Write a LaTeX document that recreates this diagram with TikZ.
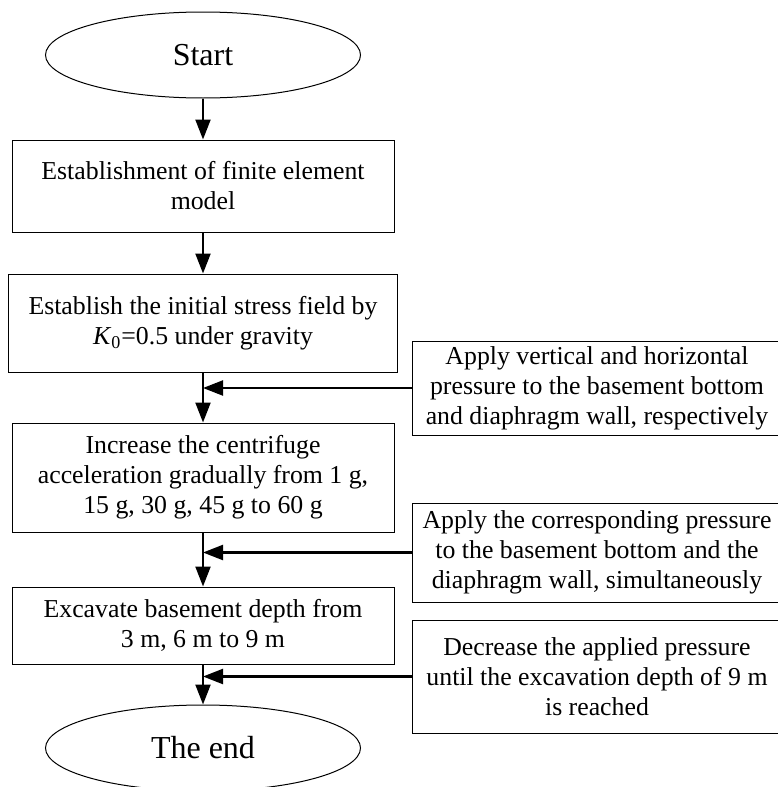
\documentclass[tikz,border=0pt]{standalone}
\usepackage{fontspec}
\setmainfont{Liberation Serif}
\usetikzlibrary{shapes.geometric,arrows.meta}

\begin{document}
\begin{tikzpicture}[node distance=65.5pt,
  term/.style={draw, ellipse, line width=0.5pt, minimum width=157.5pt, minimum height=43pt, inner sep=0pt, font=\fontsize{16}{19}\selectfont},
  stepbox/.style={draw, rectangle, line width=0.5pt, minimum width=191pt, align=center, inner sep=0pt, font=\fontsize{12.9}{15}\selectfont},
  sidebox/.style={draw, rectangle, line width=0.5pt, minimum width=185pt, align=center, inner sep=0pt, font=\fontsize{12.9}{15}\selectfont},
  flow/.style={arrows=-{Triangle[length=10pt,width=7.5pt]}, line width=1.1pt}]
\useasboundingbox (0,0) rectangle (388.5pt,-393.5pt);
\node  (start)[term] at (101.5pt,-27.5pt) {Start};
\node  (model)[stepbox, minimum height=46pt]   [below of = start] {Establishment of finite element\\model};
\node  (stress)[stepbox, minimum height=49pt, minimum width=194.5pt]  [below of = model, node distance=68.5pt] {Establish the initial stress field by\\\textit{K}\textsubscript{0}=0.5 under gravity};
\node  (accel)[stepbox, minimum height=54.5pt]  [below of = stress, node distance=77.25pt] {Increase the centrifuge\\acceleration gradually from 1 g,\\15 g, 30 g, 45 g to 60 g};
\node  (excav)[stepbox, minimum height=38.5pt]  [below of = accel, node distance=74pt] {Excavate basement depth from\\3 m, 6 m to 9 m};
\node  (end)[term]  [below of = excav, node distance=61.25pt] {The end};
\node  (load1)[sidebox, minimum height=47pt] at (298.5pt,-194pt) {Apply vertical and horizontal\\pressure to the basement bottom\\and diaphragm wall, respectively};
\node  (load2)[sidebox, minimum height=49.5pt] at (298.5pt,-276.25pt) {Apply the corresponding pressure\\to the basement bottom and the\\diaphragm wall, simultaneously};
\node  (load3)[sidebox, minimum height=56.5pt] at (298.5pt,-338.25pt) {Decrease the applied pressure\\until the excavation depth of 9 m\\is reached};
\coordinate (j1) at (stress.south |- load1.west);
\coordinate (j2) at (accel.south |- load2.west);
\coordinate (j3) at (excav.south |- load3.west);
\draw[flow] (start) -- (model);
\draw[flow] (model) -- (stress);
\draw[flow] (stress) -- (accel);
\draw[flow] (accel) -- (excav);
\draw[flow] (excav) -- (end);
\draw[flow] (load1) -- (j1);
\draw[flow] (load2) -- (j2);
\draw[flow] (load3) -- (j3);
\end{tikzpicture}
\end{document}
